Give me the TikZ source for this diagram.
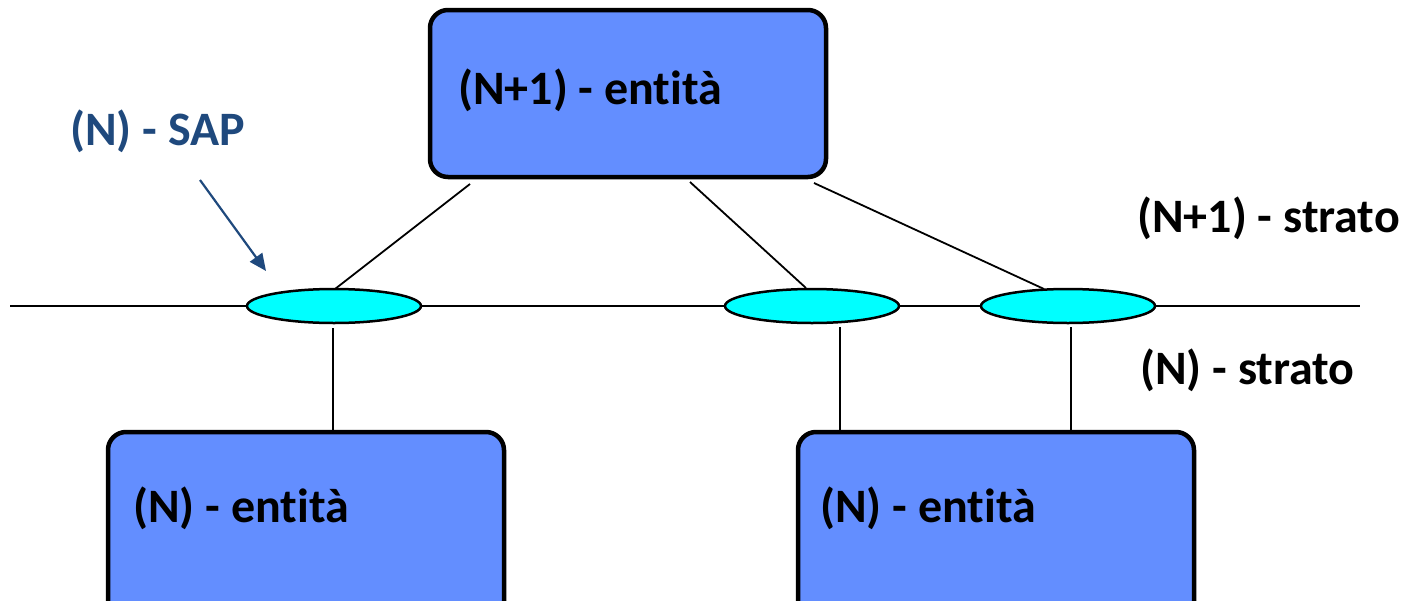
\documentclass[tikz,border=0pt]{standalone}
\usepackage{fontspec}
\setmainfont{Carlito}[Ligatures={NoCommon}]
\usetikzlibrary{arrows.meta,shapes.geometric}
\definecolor{boxblue}{RGB}{99,142,255}
\definecolor{sapblue}{RGB}{31,73,125}
\definecolor{sapcyan}{RGB}{0,255,255}
\begin{document}
\begin{tikzpicture}[x=1pt,y=-1pt,
  entbox/.style={draw=black,line width=4.5pt,fill=boxblue,rounded corners=18pt,inner sep=0pt},
  sap/.style={ellipse,draw=black,line width=2.5pt,fill=sapcyan,minimum width=174pt,minimum height=34pt,inner sep=0pt},
  lbl/.style={font=\fontsize{48}{52}\selectfont\bfseries,inner sep=0pt,anchor=west},
  conn/.style={line width=1.8pt,black}]
\useasboundingbox (0,0) rectangle (1406,600);
\clip (0,0) rectangle (1406,600);
% layer line
\coordinate (lineL) at (10,306);
\coordinate (lineR) at (1360,306);
\draw[conn] (lineL) -- (lineR);
% boxes
\node[entbox,minimum width=396pt,minimum height=167pt] (top) at (628,93.5) {};
\node[entbox,minimum width=396pt,minimum height=200pt] (bl) at (306,532) {};
\node[entbox,minimum width=396pt,minimum height=200pt] (br) at (996,532) {};
\node[lbl] (toptxt) at (458,90) {(N+1) - entità};
\node[lbl] (bltxt) at (133,508) {(N) - entità};
\node[lbl] (brtxt) at (820,508) {(N) - entità};
% SAPs
\node[sap] (s1) at (334,306) {};
\node[sap] (s2) at (812,306) {};
\node[sap] (s3) at (1068,306) {};
% connectors from upper entity
\coordinate (t1) at (470,184);
\coordinate (t2) at (690,182);
\coordinate (t3) at (814,183);
\coordinate (e1) at (335,289);
\coordinate (e2) at (806,288);
\coordinate (e3) at (1044,289);
\draw[conn] (t1) -- (e1);
\draw[conn] (t2) -- (e2);
\draw[conn] (t3) -- (e3);
% connectors to lower entities
\coordinate (d1) at (333,328);
\coordinate (d2) at (840,327);
\coordinate (d3) at (1071,327);
\draw[conn] (d1) -- (d1 |- bl.north);
\draw[conn] (d2) -- (d2 |- br.north);
\draw[conn] (d3) -- (d3 |- br.north);
% SAP label and arrow
\node[lbl,text=sapblue] (saplbl) at (70,131) {(N) - SAP};
\coordinate (arS) at (200,180);
\coordinate (arE) at (266,271);
\draw[sapblue,line width=2.2pt,-{Triangle[length=17pt,width=15pt]}] (arS) -- (arE);
% strata labels
\node[lbl] (up) at (1137,218) {(N+1) - strato};
\node[lbl] (dn) at (1140,370) {(N) - strato};
\end{tikzpicture}
\end{document}
